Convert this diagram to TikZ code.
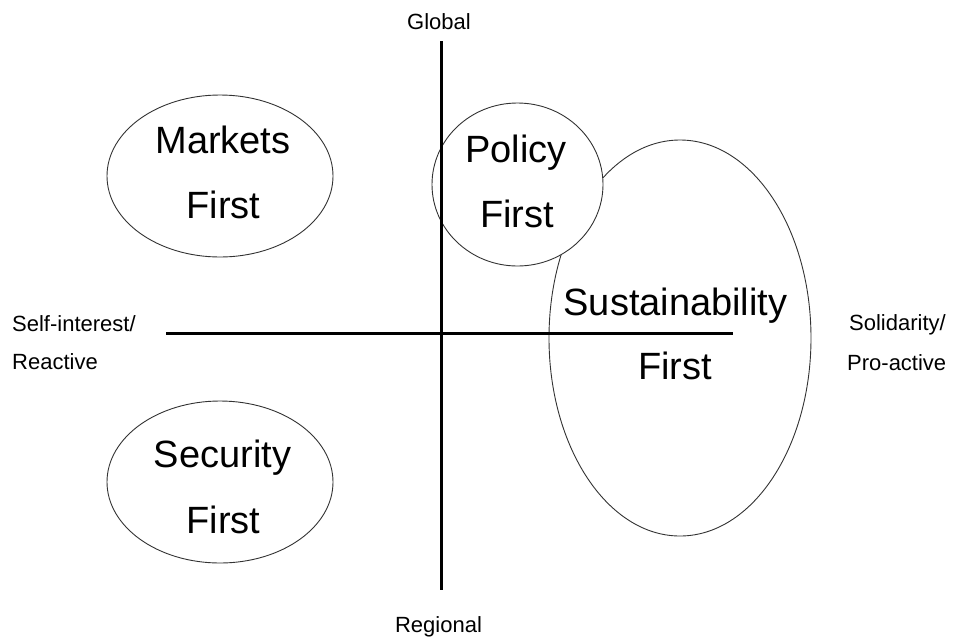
\documentclass[tikz,border=0pt]{standalone}
\usepackage{fontspec}
\setmainfont{Liberation Sans}
\usetikzlibrary{shapes.geometric}
\begin{document}
\begin{tikzpicture}[x=1pt,y=-1pt,
  oval/.style={ellipse,draw=black!80,fill=white,line width=0.9pt,inner sep=0pt,outer sep=0pt},
  axis/.style={line width=3pt,black},
  bigtxt/.style={inner sep=0pt,anchor=base,font=\fontsize{38}{40}\selectfont},
  smalltxt/.style={inner sep=0pt,font=\fontsize{22}{24}\selectfont}]
\useasboundingbox[fill=white] (0,0) rectangle (959,641);
% ovals
\node[oval,minimum width=226pt,minimum height=162pt] (markets) at (220,176) {};
\node[oval,minimum width=226pt,minimum height=162pt] (security) at (220,482) {};
\node[oval,minimum width=262pt,minimum height=396pt] (sust) at (680,338) {};
\node[oval,minimum width=171pt,minimum height=163pt] (policy) at (517.5,184.5) {};
% axes
\coordinate (top) at (441,41);
\coordinate (bottom) at (441,590);
\coordinate (left) at (166,333);
\coordinate (right) at (733,333);
\draw[axis] (top) -- (bottom);
\draw[axis] (left) -- (right);
% oval texts
\node[bigtxt] (m1) at (223,153) {Markets};
\node[bigtxt] (m2) at (223.5,218) {First};
\node[bigtxt] (p1) at (516,162) {Policy};
\node[bigtxt] (p2) at (517,227) {First};
\node[bigtxt] (s1) at (675.5,315) {Sustainability};
\node[bigtxt] (s2) at (675,379) {First};
\node[bigtxt] (c1) at (222.5,467) {Security};
\node[bigtxt] (c2) at (223.5,533) {First};
% axis labels
\node[smalltxt,anchor=base] (global) at (439,29) {Global};
\node[smalltxt,anchor=base] (regional) at (438.5,632) {Regional};
\node[smalltxt,anchor=base west] (self) at (12,331) {Self-interest/};
\node[smalltxt,anchor=base west] (react) at (12,369) {Reactive};
\node[smalltxt,anchor=base west] (solid) at (849,330) {Solidarity/};
\node[smalltxt,anchor=base west] (pro) at (847,370) {Pro-active};
\end{tikzpicture}
\end{document}
